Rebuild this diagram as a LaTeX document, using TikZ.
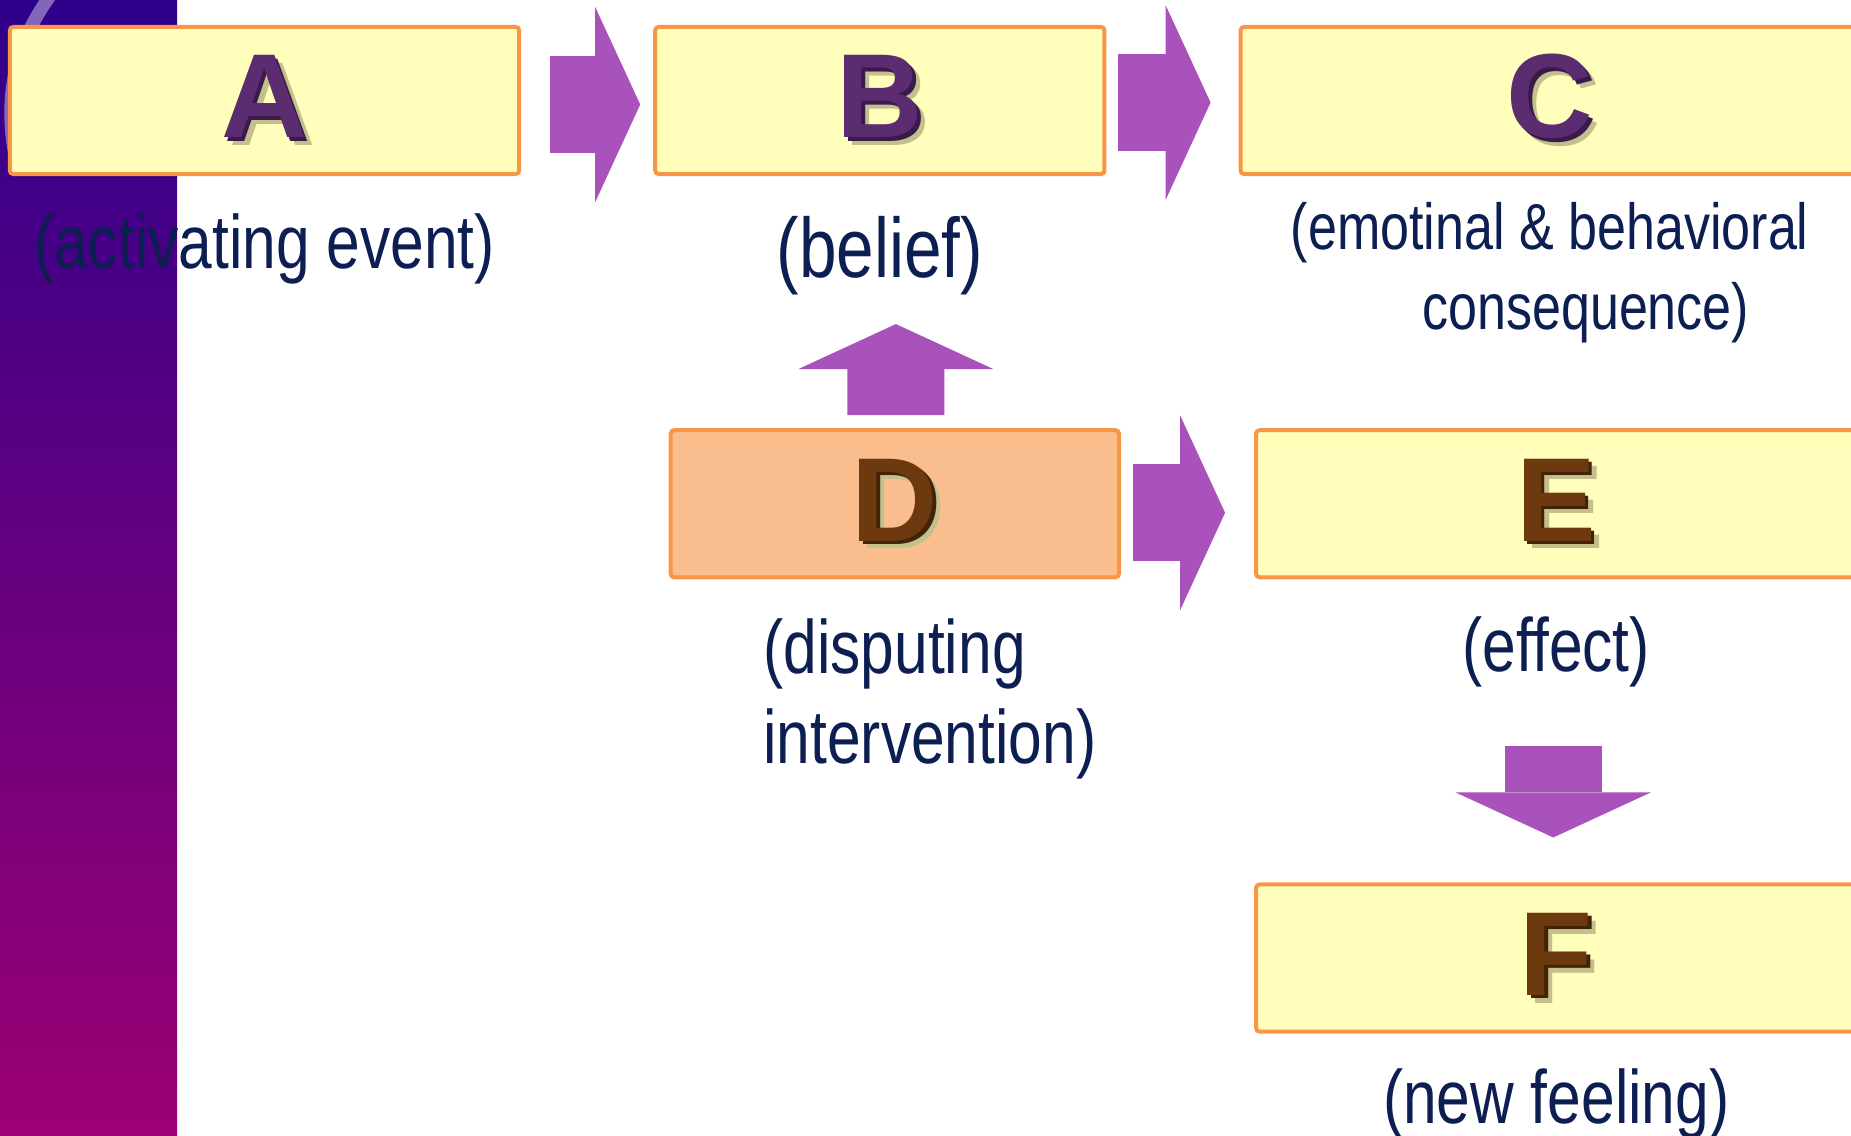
\documentclass[tikz,border=0pt]{standalone}
\usepackage{fontspec}
\setmainfont{Liberation Sans}
\newfontfamily\narrowsf{Liberation Sans}[FakeStretch=0.8]
\usepackage{tikz}
\usetikzlibrary{arrows.meta,positioning,calc}
\definecolor{bartop}{RGB}{46,0,139}
\definecolor{barmid}{RGB}{98,0,140}
\definecolor{barbot}{RGB}{156,0,116}
\definecolor{boxfill}{RGB}{255,255,187}
\definecolor{boxline}{RGB}{247,150,70}
\definecolor{peach}{RGB}{250,190,142}
\definecolor{plum}{RGB}{91,45,112}
\definecolor{plumdark}{RGB}{58,26,74}
\definecolor{letterbrown}{RGB}{108,58,14}
\definecolor{browndark}{RGB}{66,34,8}
\definecolor{letshadow}{RGB}{196,192,140}
\definecolor{arrowpurple}{RGB}{170,82,188}
\definecolor{inktext}{RGB}{12,30,82}
% letter with a dark side and a soft shadow
\newcommand{\bevletter}[3]{%
  \rlap{\kern2.2pt\raisebox{-2.2pt}{\textcolor{letshadow}{#3}}}%
  \rlap{\kern1pt\raisebox{-1pt}{\textcolor{#2}{#3}}}%
  \textcolor{#1}{#3}}

\begin{document}
\begin{tikzpicture}[
  x=0.01cm,y=-0.01cm,
  node distance=1.32cm,
  box/.style={draw=boxline,fill=boxfill,line width=0.04cm,rounded corners=1pt,
    minimum height=1.47cm,inner sep=0pt,
    font=\fontsize{34}{40}\selectfont\bfseries},
  dbox/.style={box,fill=peach},
  lbl/.style={font=\narrowsf\fontsize{21.5}{25.5}\selectfont,text=inktext,inner sep=0pt},
  blk/.style={line width=0.97cm,draw=arrowpurple,
    -{Triangle[length=0.45cm,width=1.95cm,line width=0pt]}},
  ring/.style={draw=white,opacity=0.4,line width=0.13cm}
]
\useasboundingbox (0,0) rectangle (1851,1135);
% side bar
\shade[top color=bartop,middle color=barmid,bottom color=barbot] (0,0) rectangle (177,1135);
\draw[ring] (50,-4) .. controls (18,40) and (4,90) .. (14,150);

\node[box,minimum width=5.09cm] (A) at (264.5,100.5) {\bevletter{plum}{plumdark}{A}};
\node[box,minimum width=4.49cm,right=of A] (B) {\bevletter{plum}{plumdark}{B}};
\node[box,minimum width=6.18cm,right=of B] (C) {\bevletter{plum}{plumdark}{C}};
\node[dbox,minimum width=4.48cm,below=2.52cm of B,xshift=0.15cm] (D) {\bevletter{letterbrown}{browndark}{D}};
\node[box,minimum width=6.0cm,right=1.33cm of D] (E) {\bevletter{letterbrown}{browndark}{E}};
\node[box,minimum width=6.0cm,below=3.03cm of E] (F) {\bevletter{letterbrown}{browndark}{F}};

\node[lbl,below=0.37cm of A] (alabel) {(activating event)};
\node[lbl,font=\narrowsf\fontsize{24}{29}\selectfont,below=0.40cm of B] (blabel) {(belief)};
\node[lbl,font=\narrowsf\fontsize{18.5}{22.7}\selectfont,align=center,below=0.26cm of C] (clabel)
  {(emotinal \& behavioral\\\hspace*{0.72cm}consequence)};
\node[lbl,align=left,anchor=north west] (dlabel) at ($(D.south west)+(94,39)$) {(disputing\\intervention)};
\node[lbl,below=0.37cm of E] (elabel) {(effect)};
\node[lbl,below=0.34cm of F] (flabel) {(new feeling)};

\draw[blk] ($(A.east)+(29,4)$) -- ($(B.west)+(-13,4)$);
\draw[blk] ($(B.east)+(12,2)$) -- ($(C.west)+(-28,2)$);
\draw[blk] ($(D.east)+(12,9)$) -- ($(E.west)+(-29,9)$);
\draw[blk] ($(D.north)+(1,-13)$) -- ($(B.south)+(16,148)$);
\draw[blk] ($(E.south)+(-3,167)$) -- ($(F.north)+(-3,-45)$);
\end{tikzpicture}
\end{document}
